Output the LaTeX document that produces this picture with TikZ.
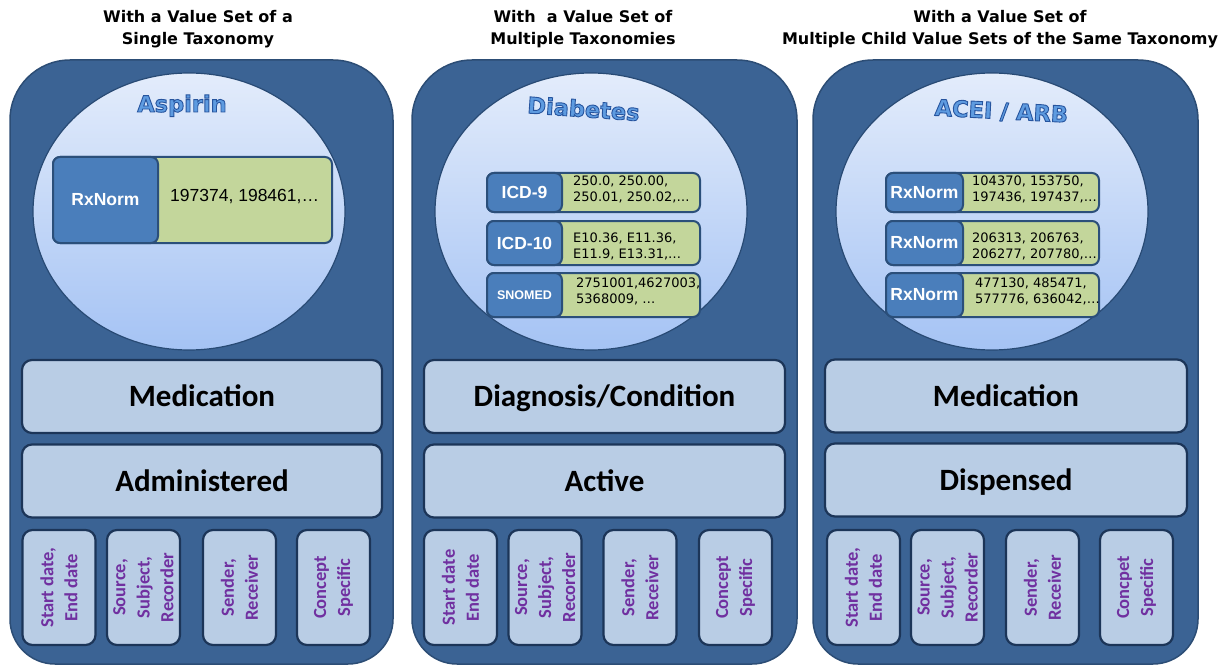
\documentclass[tikz,border=0pt]{standalone}
\usepackage{fontspec}
\setmainfont{DejaVu Sans}
\newfontfamily\calfont{Carlito}
\newfontfamily\arfont{Liberation Sans}
\newfontfamily\dvfont{DejaVu Sans}
\usetikzlibrary{shapes.geometric}
\definecolor{panelblue}{HTML}{3B6394}
\definecolor{paneledge}{HTML}{2C4D75}
\definecolor{rowfill}{HTML}{B9CDE5}
\definecolor{rowedge}{HTML}{1C3558}
\definecolor{elltop}{HTML}{E3ECFB}
\definecolor{ellbot}{HTML}{A5C3F4}
\definecolor{elledge}{HTML}{284A74}
\definecolor{labblue}{HTML}{4A7EBB}
\definecolor{valgreen}{HTML}{C3D69B}
\definecolor{taxedge}{HTML}{2B4F7A}
\definecolor{attrpurple}{HTML}{7030A0}
\definecolor{wordblue}{HTML}{5E9BE0}
\newcommand{\outlined}[1]{\special{pdf:literal direct 2 Tr 0.9 w 0.15 0.33 0.62 RG}#1\special{pdf:literal direct 0 Tr}}
\begin{document}
\begin{tikzpicture}[x=1pt,y=-1pt,
  panel/.style={fill=panelblue,draw=paneledge,line width=1.5pt},
  vsell/.style={top color=elltop,bottom color=ellbot,draw=elledge,line width=1.2pt},
  title/.style={align=center,inner sep=0pt,font=\dvfont\bfseries\fontsize{16}{22}\selectfont},
  wordart/.style={inner sep=0pt,text=wordblue,font=\dvfont\bfseries\fontsize{22.5}{26}\selectfont},
  rowbox/.style={rounded corners=10pt,fill=rowfill,draw=rowedge,line width=2.2pt,
    minimum width=360pt,minimum height=73pt,inner sep=0pt,text height=20pt,text depth=0pt,
    font=\calfont\bfseries\fontsize{31}{36}\selectfont},
  attrbox/.style={rotate=90,rounded corners=10pt,fill=rowfill,draw=rowedge,line width=2.2pt,
    minimum width=115pt,minimum height=73pt,inner sep=0pt,align=center,text=attrpurple,
    font=\calfont\bfseries\fontsize{18.5}{24}\selectfont},
  valbox/.style={rounded corners=7pt,fill=valgreen,draw=taxedge,line width=2pt,inner sep=0pt},
  labbox/.style={rounded corners=7pt,fill=labblue,draw=taxedge,line width=2pt,inner sep=0pt,
    text=white,font=\arfont\bfseries\fontsize{17.5}{20}\selectfont},
  valtext/.style={anchor=west,align=left,inner sep=0pt,font=\dvfont\fontsize{13}{16}\selectfont}
]
\useasboundingbox (0,0) rectangle (1227,666);

% ---------- titles
\node[title] (t1) at (198,29) {With a Value Set of a\\Single Taxonomy};
\node[title] (t2) at (583,29) {With~ a Value Set of\\Multiple Taxonomies};
\node[title] (t3) at (1000,29) {With a Value Set of\\Multiple Child Value Sets of the Same Taxonomy};

% ---------- panels
\foreach \xa/\xb in {10/393, 412/797, 813/1198}{
  \path[panel] ({(\xa+\xb)/2},60) [rounded corners=60pt] -- (\xb,60) -- (\xb,400)
    [rounded corners=45pt] -- (\xb,664) -- (\xa,664) -- (\xa,400)
    [rounded corners=60pt] -- (\xa,60) -- cycle;
}

% ---------- value-set ellipses
\path[vsell] (189,211.5) ellipse [x radius=156, y radius=138.5];
\path[vsell] (591,211.5) ellipse [x radius=156, y radius=138.5];
\path[vsell] (992,211.5) ellipse [x radius=156, y radius=138.5];

\node[wordart,anchor=base] (w1) at (182,112) {\outlined{Aspirin}};
\node[wordart,anchor=base,rotate=-4] (w2) at (583,117) {\outlined{Diabetes}};
\node[wordart,anchor=base,rotate=-3] (w3) at (1001,119) {\outlined{ACEI / ARB}};

% ---------- panel 1 taxonomy
\node[valbox,minimum width=279pt,minimum height=86pt] (g1) at (192.5,200) {};
\node[labbox,minimum width=105pt,minimum height=86pt] (l1) at (105.5,200) {RxNorm};
\node[valtext,font=\arfont\fontsize{17.5}{20}\selectfont] (v1) at (170,197) {197374, 198461,…};

% ---------- panel 2 taxonomies
\node[valbox,minimum width=213pt,minimum height=39pt] (g21) at (593.5,192.5) {};
\node[labbox,minimum width=75pt,minimum height=39pt] (l21) at (524.5,192.5) {ICD-9};
\node[valtext] (v21) at (573,189) {250.0, 250.00,\\250.01, 250.02,…};
\node[valbox,minimum width=213pt,minimum height=44pt] (g22) at (593.5,243) {};
\node[labbox,minimum width=75pt,minimum height=44pt] (l22) at (524.5,243) {ICD-10};
\node[valtext] (v22) at (573,246) {E10.36, E11.36,\\E11.9, E13.31,…};
\node[valbox,minimum width=213pt,minimum height=44pt] (g23) at (593.5,295) {};
\node[labbox,minimum width=75pt,minimum height=44pt,font=\arfont\bfseries\fontsize{12.5}{14}\selectfont] (l23) at (524.5,295) {SNOMED};
\node[valtext] (v23) at (576,291) {2751001,4627003,\\5368009, …};

% ---------- panel 3 taxonomies
\node[valbox,minimum width=213pt,minimum height=39pt] (g31) at (992.5,192.5) {};
\node[labbox,minimum width=77pt,minimum height=39pt] (l31) at (924.5,192.5) {RxNorm};
\node[valtext] (v31) at (972,189) {104370, 153750,\\197436, 197437,…};
\node[valbox,minimum width=213pt,minimum height=44pt] (g32) at (992.5,243) {};
\node[labbox,minimum width=77pt,minimum height=44pt] (l32) at (924.5,243) {RxNorm};
\node[valtext] (v32) at (972,246) {206313, 206763,\\206277, 207780,…};
\node[valbox,minimum width=213pt,minimum height=44pt] (g33) at (992.5,295) {};
\node[labbox,minimum width=77pt,minimum height=44pt] (l33) at (924.5,295) {RxNorm};
\node[valtext] (v33) at (975,291) {477130, 485471,\\577776, 636042,…};

% ---------- category rows
\node[rowbox] (c1) at (202,396.5) {Medication};
\node[rowbox] (s1) at (202,481) {Administered};
\node[rowbox,minimum width=361pt] (c2) at (604.5,396.5) {Diagnosis/Condition};
\node[rowbox,minimum width=361pt] (s2) at (604.5,481) {Active};
\node[rowbox,minimum width=362pt] (c3) at (1006,396) {Medication};
\node[rowbox,minimum width=362pt] (s3) at (1006,480) {Dispensed};

% ---------- attribute boxes
\node[attrbox] (a11) at (59,587.5) {Start date,\\End date};
\node[attrbox] (a12) at (143.5,587.5) {Source,\\Subject,\\Recorder};
\node[attrbox] (a13) at (239.5,587.5) {Sender,\\Receiver};
\node[attrbox] (a14) at (333.5,587.5) {Concept\\Specific};

\node[attrbox] (a21) at (460.5,587.5) {Start date\\End date};
\node[attrbox] (a22) at (545,587.5) {Source,\\Subject,\\Recorder};
\node[attrbox] (a23) at (640,587.5) {Sender,\\Receiver};
\node[attrbox] (a24) at (735.5,587.5) {Concept\\Specific};

\node[attrbox] (a31) at (863.5,587.5) {Start date,\\End date};
\node[attrbox] (a32) at (947.5,587.5) {Source,\\Subject,\\Recorder};
\node[attrbox] (a33) at (1042.5,587.5) {Sender,\\Receiver};
\node[attrbox] (a34) at (1136.5,587.5) {Concpet\\Specific};
\end{tikzpicture}
\end{document}
